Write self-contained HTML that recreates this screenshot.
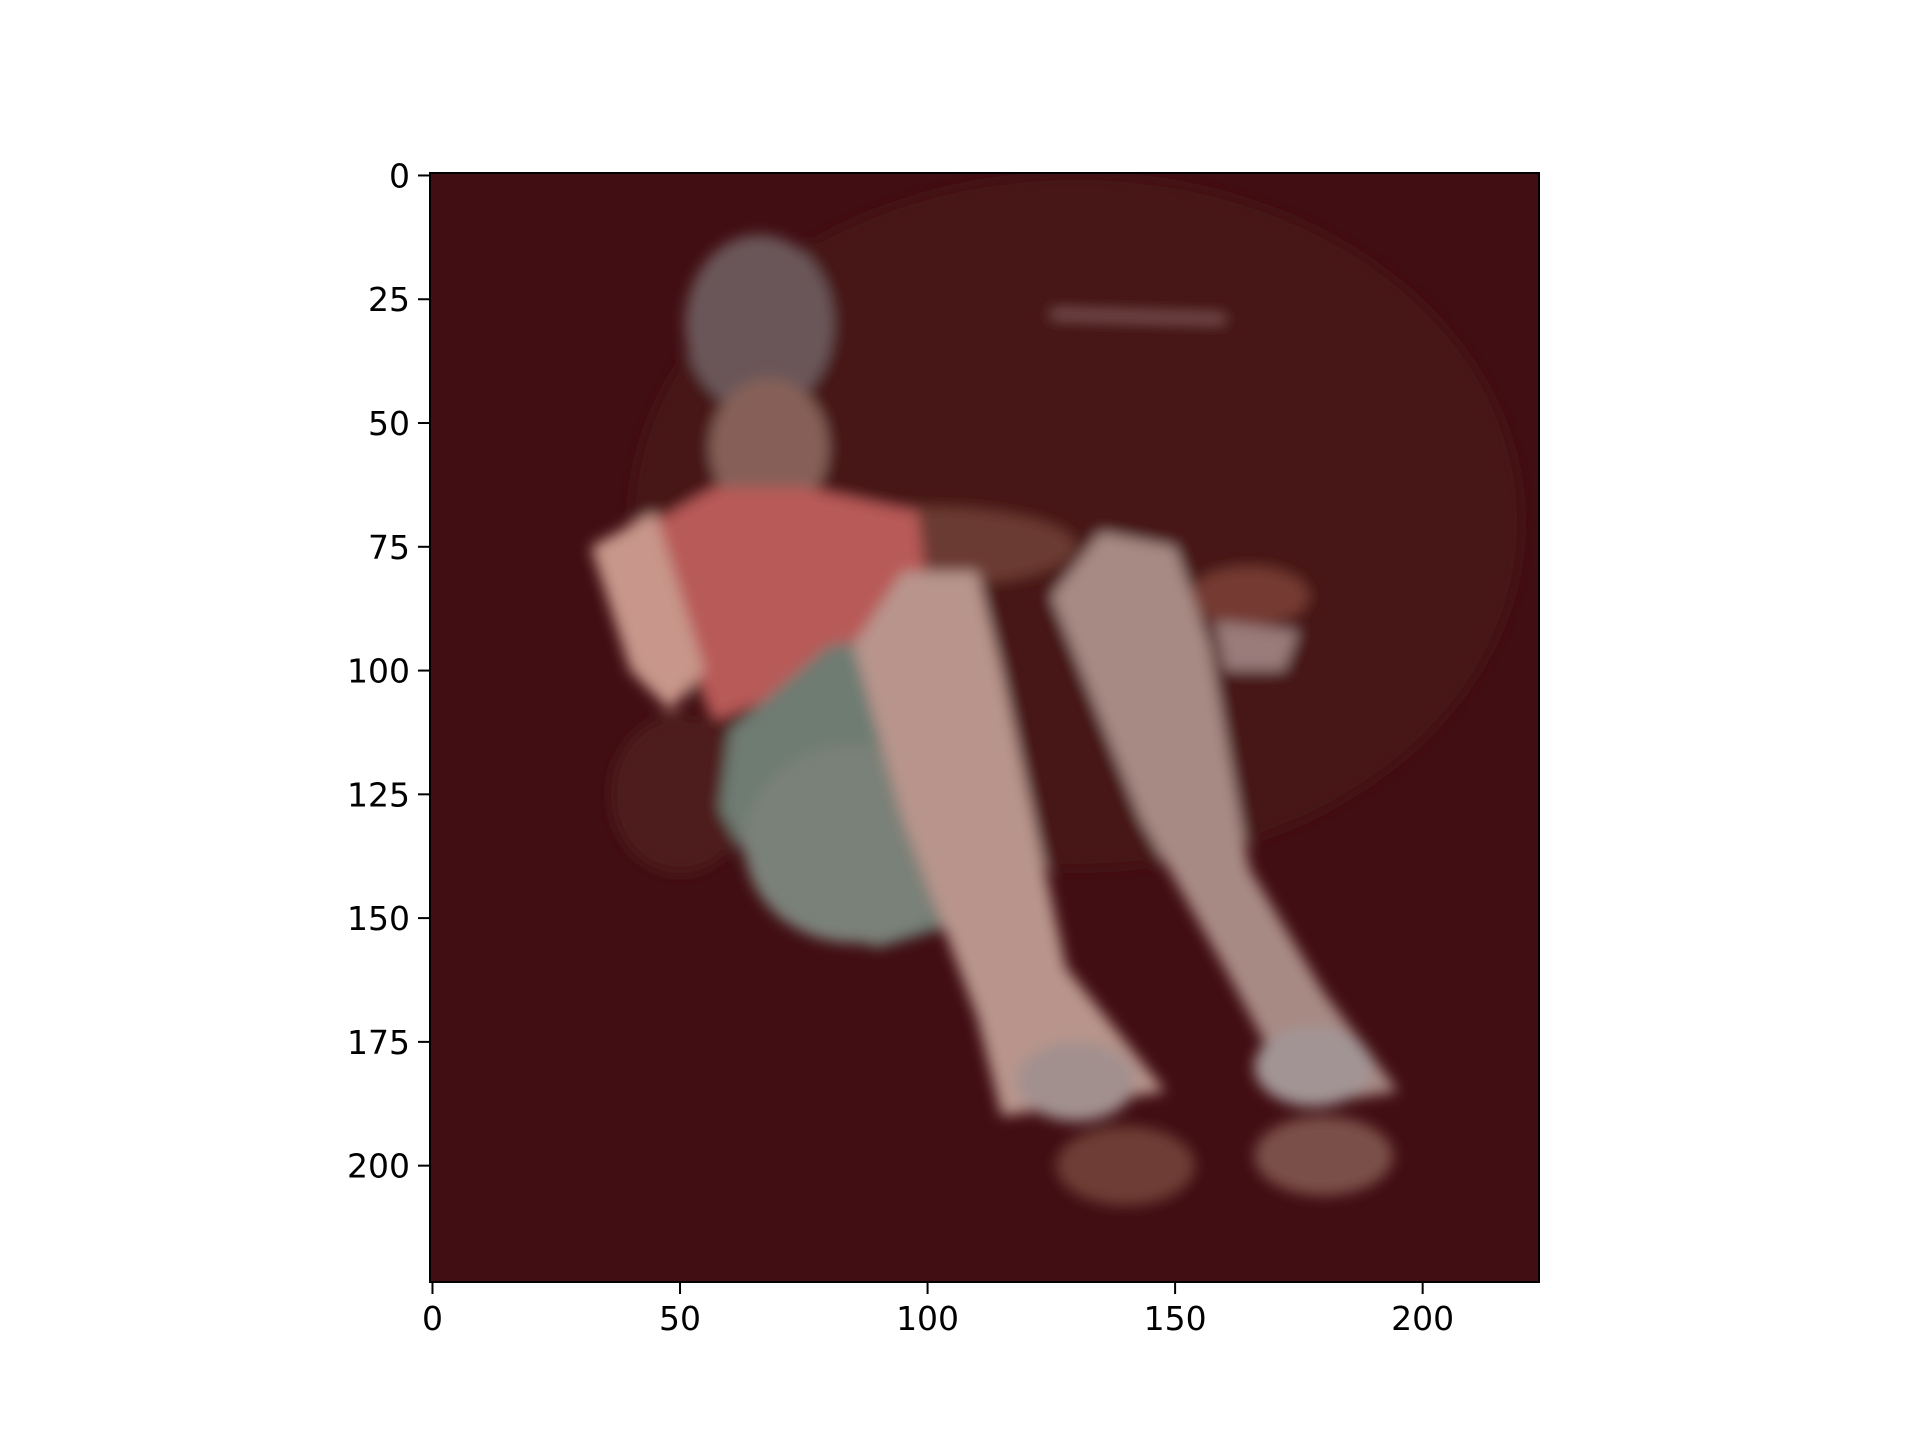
<!DOCTYPE html>
<html><head><meta charset="utf-8"><style>
html,body{margin:0;padding:0;background:#fff;}
#wrap{position:relative;width:1920px;height:1440px;overflow:hidden;font-family:"DejaVu Sans","Liberation Sans",sans-serif;}
</style></head><body>
<div id="wrap">
<svg id="chart" width="1920" height="1440" viewBox="0 0 1920 1440" xmlns="http://www.w3.org/2000/svg">
<defs>
<filter id="bl" x="-20%" y="-20%" width="140%" height="140%"><feGaussianBlur stdDeviation="1.4"/></filter>
<clipPath id="clip"><rect x="-0.5" y="-0.5" width="224" height="224"/></clipPath>
</defs>
<g id="imgLayer"></g>
<g id="axes"></g>
</svg>
</div>
<script>
const xTicks=[0,50,100,150,200];
const yTicks=[0,25,50,75,100,125,150,175,200];
const imgW=224, imgH=224;
const L=430,R=1539,T=173,B=1282;
const sx=v=>L+(v+0.5)*(R-L)/imgW;
const sy=v=>T+(v+0.5)*(B-T)/imgH;
const NS="http://www.w3.org/2000/svg";
function mk(tag,attrs,parent){const e=document.createElementNS(NS,tag);for(const k in attrs)e.setAttribute(k,attrs[k]);parent.appendChild(e);return e;}
const img=document.getElementById('imgLayer');
const g=mk('g',{transform:`translate(${L},${T}) scale(${(R-L)/imgW}) translate(0.5,0.5)`,'clip-path':'url(#clip)'},img);
mk('rect',{x:-0.5,y:-0.5,width:224,height:224,fill:'#410e13'},g);
const blur=mk('g',{filter:'url(#bl)'},g);
const shapes=[
 ['ellipse',{cx:130,cy:70,rx:90,ry:70,fill:'#471317'}],
 ['ellipse',{cx:50,cy:125,rx:14,ry:16,fill:'#4e1a1a'}],
 ['ellipse',{cx:50,cy:78,rx:12,ry:9,fill:'#7a4636'}],
 ['ellipse',{cx:100,cy:75,rx:30,ry:8,fill:'#6a3a32'}],
 ['ellipse',{cx:165,cy:85,rx:12,ry:6,fill:'#743a30'}],
 ['ellipse',{cx:66,cy:30,rx:15,ry:18,fill:'#6a5658'}],
 ['ellipse',{cx:68,cy:55,rx:12,ry:14,fill:'#866058'}],
 ['path',{d:'M45,70 L57,63 L75,63 L98,68 L100,85 L70,105 L57,110 L50,92 Z',fill:'#b85a58'}],
 ['path',{d:'M60,112 L80,95 L100,92 L110,120 L110,150 L90,156 L70,150 L58,128 Z',fill:'#6e7c72'}],
 ['ellipse',{cx:85,cy:135,rx:22,ry:20,fill:'#7a8178'}],
 ['path',{d:'M85,95 L95,80 L110,80 L115,100 L128,160 L148,185 L115,190 L110,170 L95,130 Z',fill:'#b8948c'}],
 ['path',{d:'M125,85 L135,72 L150,75 L157,95 L165,140 L180,165 L195,185 L175,188 L160,160 L143,130 Z',fill:'#a88a84'}],
 ['path',{d:'M32,75 L45,68 L55,100 L48,108 L40,100 Z',fill:'#c8968a'}],
 ['path',{d:'M158,90 L175,92 L172,100 L160,100 Z',fill:'#9a7c7a'}],
 ['ellipse',{cx:140,cy:200,rx:14,ry:8,fill:'#6e3c34'}],
 ['ellipse',{cx:180,cy:198,rx:14,ry:8,fill:'#7a5048'}],
 ['ellipse',{cx:130,cy:183,rx:12,ry:8,fill:'#a2908e'}],
 ['ellipse',{cx:178,cy:180,rx:12,ry:8,fill:'#a29494'}],
 ['line',{x1:125,y1:28,x2:160,y2:29,stroke:'#9a6868','stroke-width':1}]
];
shapes.forEach(s=>{const e=mk(s[0],s[1],blur);});
const ax=document.getElementById('axes');
const frame=mk('rect',{x:L,y:T,width:R-L,height:B-T,fill:'none',stroke:'#000','stroke-width':2},ax);

xTicks.forEach(v=>{const x=sx(v);
 const t=mk('line',{x1:x,y1:B,x2:x,y2:B+12,stroke:'#000','stroke-width':2},ax);
 
 const l=mk('text',{x:x,y:B+48,'text-anchor':'middle','font-size':33,fill:'#000'},ax);l.textContent=v;
 });
yTicks.forEach(v=>{const y=sy(v);
 const t=mk('line',{x1:L,y1:y,x2:L-12,y2:y,stroke:'#000','stroke-width':2},ax);
 
 const l=mk('text',{x:L-20,y:y+12,'text-anchor':'end','font-size':33,fill:'#000'},ax);l.textContent=v;
 });
</script>
</body></html>
